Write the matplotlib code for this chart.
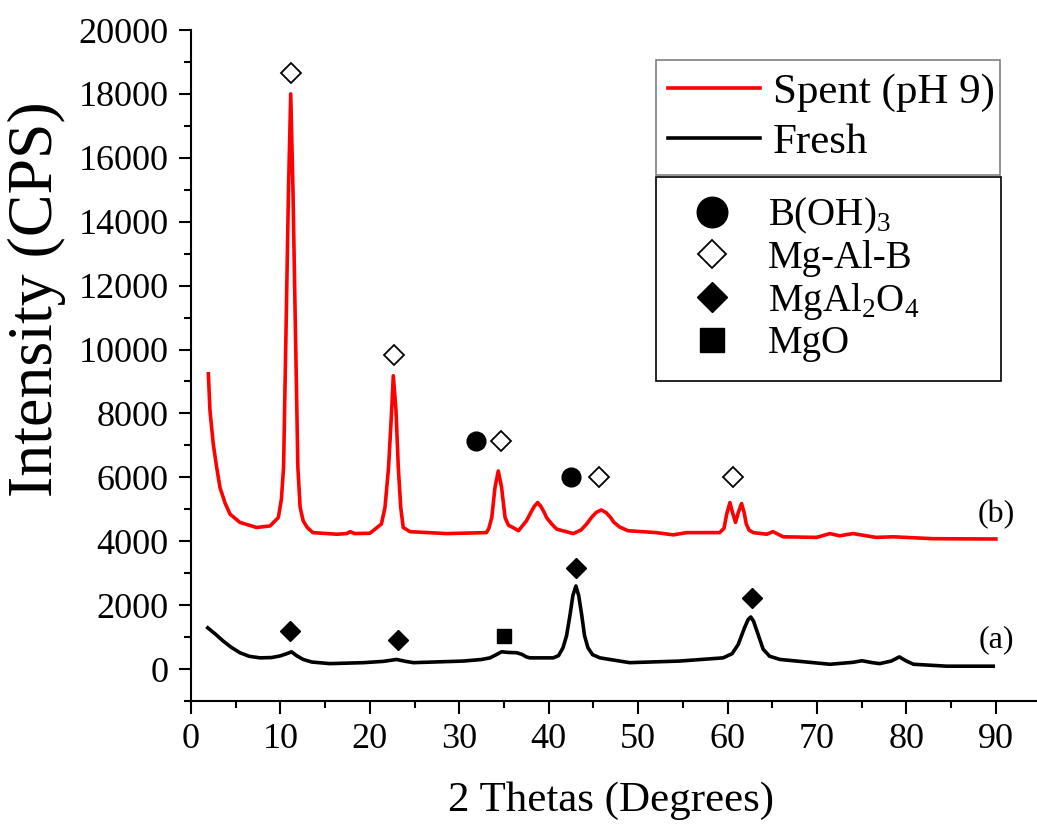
import matplotlib
matplotlib.use("Agg")
import matplotlib.pyplot as plt
from matplotlib.lines import Line2D
from matplotlib.ticker import MultipleLocator

plt.rcParams['font.family'] = 'Liberation Serif'
plt.rcParams['mathtext.fontset'] = 'custom'
plt.rcParams['mathtext.rm'] = 'Liberation Serif'

# spent catalyst (pH 9)
spent_x = [1.94, 2.12, 2.49, 2.87, 3.24, 3.8, 4.36, 5.47, 7.34, 8.84, 9.76, 10.1, 10.35, 10.65,
           10.9, 11.15, 11.4, 11.65, 11.95, 12.2, 12.54, 13.0, 13.63, 16.32, 17.4, 17.81, 18.3,
           20.0, 21.29, 21.69, 22.09, 22.44, 22.62, 22.92, 23.18, 23.45, 23.73, 24.49, 28.56,
           33.03, 33.3, 33.63, 33.99, 34.36, 34.73, 35.12, 35.5, 36.0, 36.62, 37.51, 38.0,
           38.4, 38.76, 39.1, 39.5, 39.76, 40.3, 40.89, 42.74, 43.6, 44.24, 44.8, 45.3, 45.87,
           46.4, 46.9, 47.26, 47.9, 48.85, 52.04, 53.93, 55.42, 59.1, 59.6, 59.9, 60.26, 60.55,
           60.89, 61.2, 61.56, 61.85, 62.09, 62.4, 62.88, 64.38, 65.07, 66.22, 69.95, 71.44,
           72.54, 74.03, 76.6, 78.5, 82.98, 90.0]
spent_y = [9240, 8090, 7040, 6310, 5680, 5200, 4850, 4590, 4430, 4480, 4740, 5300, 6310, 11000,
           15000, 18000, 15000, 11000, 6310, 5060, 4640, 4430, 4270, 4220, 4240, 4300, 4240,
           4250, 4540, 5060, 6310, 8100, 9180, 8100, 6310, 5060, 4430, 4300, 4240,
           4270, 4400, 4740, 5680, 6200, 5680, 4740, 4500, 4430, 4330, 4640, 4900,
           5100, 5210, 5100, 4900, 4740, 4550, 4380, 4240, 4350, 4540, 4750, 4900, 4980,
           4900, 4750, 4600, 4450, 4330, 4270, 4200, 4270, 4270, 4400, 4850, 5210, 4900,
           4590, 4900, 5180, 4900, 4540, 4350, 4270, 4220, 4300, 4140, 4120, 4240,
           4170, 4240, 4120, 4140, 4080, 4070]

# fresh catalyst
fresh_x = [1.87, 2.7, 3.58, 4.5, 5.47, 6.5, 7.71, 9.0, 9.95, 10.7, 11.24, 11.8, 12.54, 13.5,
           15.52, 19.3, 21.5, 22.98, 24.0, 24.88, 30.45, 32.5, 33.43, 34.2, 34.73, 35.5, 36.42,
           37.01, 37.5, 37.91, 40.5, 41.1, 41.6, 42.0, 42.39, 42.7, 43.04, 43.35, 43.68, 44.0,
           44.38, 44.9, 45.73, 49.05, 54.63, 59.5, 60.5, 61.19, 61.89, 62.3, 62.59, 62.9,
           63.28, 63.98, 64.7, 65.87, 71.44, 74.0, 75.02, 76.2, 77.01, 78.3, 79.2, 80.0,
           80.79, 84.48, 89.7]
fresh_y = [1290, 1100, 880, 680, 510, 400, 350, 360, 410, 480, 540, 420, 300, 220,
           170, 200, 240, 300, 240, 200, 250, 300, 350, 460, 540, 520, 510,
           460, 380, 350, 350, 420, 670, 1050, 1710, 2300, 2600, 2300, 1710, 1050,
           670, 450, 350, 200, 250, 350, 480, 770, 1290, 1550, 1630, 1500,
           1190, 620, 400, 300, 150, 210, 260, 200, 170, 250, 380, 250,
           150, 90, 90]

# phase markers
mgalb_x = [11.15, 22.70, 34.63, 45.65, 60.63]
mgalb_y = [18650, 9840, 7150, 6000, 6000]
boh3_x = [31.86, 42.45]
boh3_y = [7150, 6000]
spinel_x = [11.07, 23.18, 43.01, 62.69]
spinel_y = [1190, 900, 3160, 2220]
mgo_x = [35.0]
mgo_y = [1030]

fig = plt.figure(figsize=(10.37, 8.25), dpi=100)
ax = fig.add_axes([0.1842, 0.1503, 0.8158, 0.8133])

l1, = ax.plot(spent_x, spent_y, color='#ff0000', lw=2.6, label='Spent (pH 9)')
l2, = ax.plot(fresh_x, fresh_y, color='black', lw=2.6, label='Fresh')

ax.plot(mgalb_x, mgalb_y, 'D', ms=10, mfc='white', mec='black', mew=1.3, ls='none')
ax.plot(boh3_x, boh3_y, 'o', ms=13.5, color='black', ls='none')
ax.plot(spinel_x, spinel_y, 'D', ms=10, color='black', ls='none')
ax.plot(mgo_x, mgo_y, 's', ms=10.5, color='black', ls='none')

ax.text(90.08, 4850, '(b)', fontsize=23, ha='center', va='center')
ax.text(90.08, 930, '(a)', fontsize=23, ha='center', va='center')

ax.set_xlim(0, 94.6)
ax.set_ylim(-1000, 20000)
ax.xaxis.set_major_locator(MultipleLocator(10))
ax.xaxis.set_minor_locator(MultipleLocator(5))
ax.yaxis.set_minor_locator(MultipleLocator(1000))
ax.set_yticks(range(0, 20001, 2000))

for side in ['top', 'right']:
    ax.spines[side].set_visible(False)
for side in ['left', 'bottom']:
    ax.spines[side].set_linewidth(1.5)
ax.tick_params(which='major', length=9, width=1.5, labelsize=26, pad=7)
ax.tick_params(which='minor', length=5, width=1.5)

fig.text(0.036, 0.637, 'Intensity (CPS)', fontsize=46, rotation=90, ha='center', va='center')
fig.text(0.589, 0.03, '2 Thetas (Degrees)', fontsize=31, ha='center', va='center')

# legend for the two patterns
leg1 = ax.legend(handles=[l1, l2], loc='upper left', mode='expand',
                 bbox_to_anchor=(656 / 1037, 1 - 173 / 825, 344 / 1037, 113 / 825),
                 bbox_transform=fig.transFigure, fontsize=31, frameon=True, fancybox=False,
                 edgecolor='#808080', framealpha=1, borderpad=0.29, labelspacing=0.27,
                 handlelength=2.12, handletextpad=0.3, borderaxespad=0)
leg1.get_frame().set_linewidth(1.2)
ax.add_artist(leg1)

# legend for the phases
h = [Line2D([], [], ls='none', marker='o', ms=22, color='black'),
     Line2D([], [], ls='none', marker='D', ms=14, mfc='white', mec='black', mew=1.3),
     Line2D([], [], ls='none', marker='D', ms=15, color='black'),
     Line2D([], [], ls='none', marker='s', ms=17, color='black')]
labels = [r'B(OH)$_\mathregular{3}$', 'Mg-Al-B', r'MgAl$_\mathregular{2}$O$_\mathregular{4}$', 'MgO']
leg2 = ax.legend(h, labels, loc='upper left', mode='expand',
                 bbox_to_anchor=(656 / 1037, 1 - 382 / 825, 345 / 1037, 205 / 825),
                 bbox_transform=fig.transFigure, fontsize=28, frameon=True, fancybox=False,
                 edgecolor='black', framealpha=1, borderpad=0.48, labelspacing=0.1,
                 handlelength=1.92, handletextpad=0.48, borderaxespad=0)
leg2.get_frame().set_linewidth(1.2)

fig.savefig('out.png', dpi=100)
